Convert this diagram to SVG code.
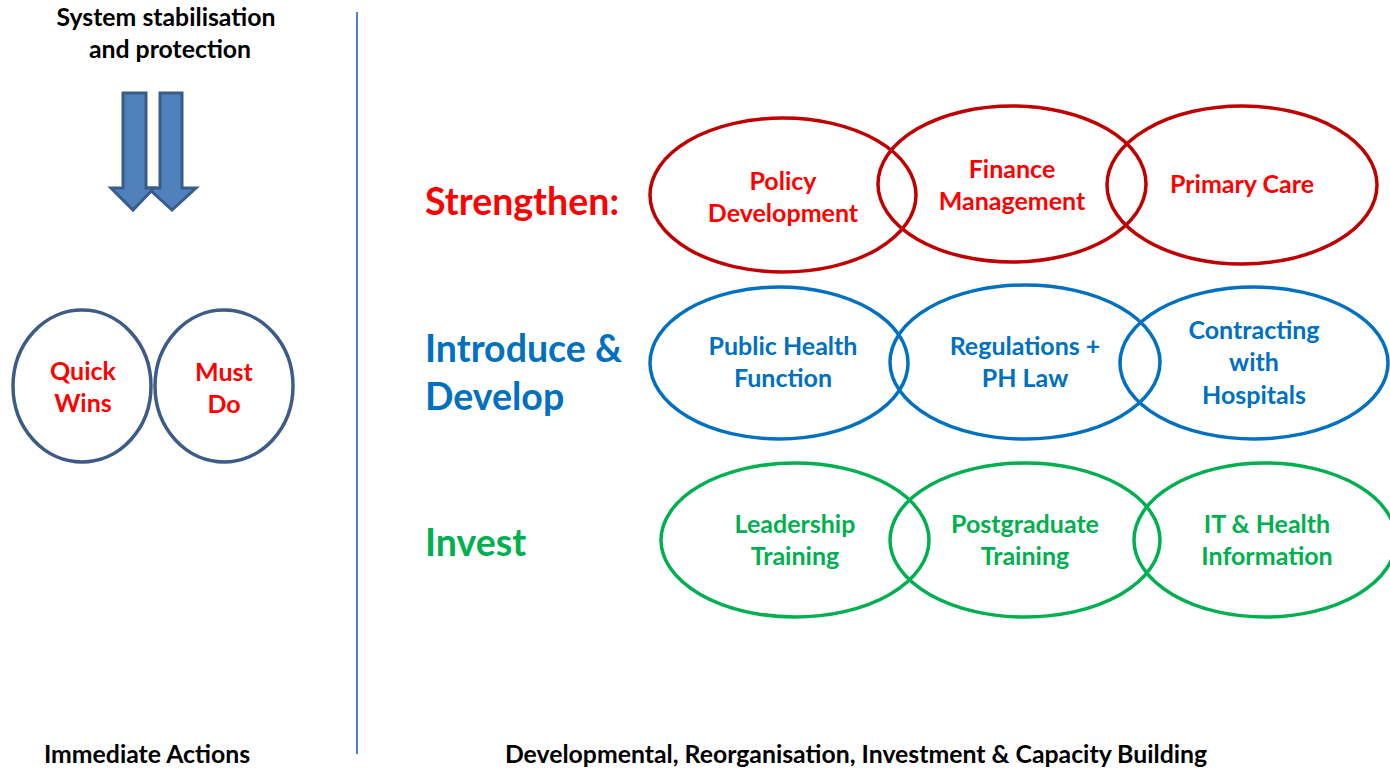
<svg xmlns="http://www.w3.org/2000/svg" width="1390" height="769" viewBox="0 0 1390 769">
  <style>
    text { font-family: Lato, "Open Sans", "Liberation Sans", sans-serif; font-weight: bold; text-anchor: middle; }
    .cap { font-size: 24.8px; fill: #000000; }
    .lbl { font-size: 25px; }
    .head { font-size: 37.5px; text-anchor: start; }
    .red-t { fill: #FF0000; }
    .blue-t { fill: #0070C0; }
    .green-t { fill: #00B050; }
    .ring { fill: none; stroke-width: 3.5; }
    .red-r { stroke: #C00000; }
    .blue-r { stroke: #0070C0; }
    .green-r { stroke: #00B050; }
    .navy-r { fill: none; stroke: #3D5B87; stroke-width: 3.5; }
    .arrow { fill: #4F81BD; stroke: #385D8A; stroke-width: 3; stroke-linejoin: miter; }
  </style>

  <rect width="1390" height="769" fill="#FFFFFF"/>

  <!-- left column: immediate actions -->
  <g id="title-left">
    <text class="cap" x="166" y="26">System stabilisation</text>
    <text class="cap" x="170" y="58">and protection</text>
  </g>

  <g id="down-arrows">
    <path class="arrow" d="M160,93 L182,93 L182,188 L196,188 L172,210 L148,188 L160,188 Z"/>
    <path class="arrow" d="M123,93 L146,93 L146,188 L154,188 L133,210 L111,188 L123,188 Z"/>
  </g>

  <g id="quick-wins">
    <ellipse class="navy-r" cx="82" cy="386" rx="69" ry="76"/>
    <text class="lbl red-t" x="83" y="380">Quick</text>
    <text class="lbl red-t" x="83" y="412">Wins</text>
  </g>
  <g id="must-do">
    <ellipse class="navy-r" cx="224" cy="386" rx="69" ry="76"/>
    <text class="lbl red-t" x="224" y="381">Must</text>
    <text class="lbl red-t" x="224" y="413">Do</text>
  </g>

  <g id="divider">
    <line x1="357" y1="12" x2="357" y2="754" stroke="#4F81BD" stroke-width="2"/>
  </g>

  <!-- right column: row headings -->
  <g id="heading-strengthen">
    <text class="head red-t" x="425" y="215">Strengthen:</text>
  </g>
  <g id="heading-introduce">
    <text class="head blue-t" x="425" y="362">Introduce &amp;</text>
    <text class="head blue-t" x="425" y="410">Develop</text>
  </g>
  <g id="heading-invest">
    <text class="head green-t" x="425" y="556">Invest</text>
  </g>

  <!-- strengthen row -->
  <g id="policy-development">
    <ellipse class="ring red-r" cx="783" cy="195" rx="133" ry="77"/>
    <text class="lbl red-t" x="783" y="190">Policy</text>
    <text class="lbl red-t" x="783" y="222">Development</text>
  </g>
  <g id="finance-management">
    <ellipse class="ring red-r" cx="1012" cy="184" rx="134" ry="78"/>
    <text class="lbl red-t" x="1012" y="178">Finance</text>
    <text class="lbl red-t" x="1012" y="210">Management</text>
  </g>
  <g id="primary-care">
    <ellipse class="ring red-r" cx="1242" cy="185" rx="135" ry="79"/>
    <text class="lbl red-t" x="1242" y="193">Primary Care</text>
  </g>

  <!-- introduce & develop row -->
  <g id="public-health">
    <ellipse class="ring blue-r" cx="779" cy="363" rx="129" ry="76"/>
    <text class="lbl blue-t" x="783" y="355">Public Health</text>
    <text class="lbl blue-t" x="783" y="387">Function</text>
  </g>
  <g id="regulations">
    <ellipse class="ring blue-r" cx="1025" cy="362" rx="135" ry="77"/>
    <text class="lbl blue-t" x="1025" y="355">Regulations +</text>
    <text class="lbl blue-t" x="1025" y="387">PH Law</text>
  </g>
  <g id="contracting">
    <ellipse class="ring blue-r" cx="1254" cy="363" rx="134" ry="76"/>
    <text class="lbl blue-t" x="1254" y="339">Contracting</text>
    <text class="lbl blue-t" x="1254" y="371">with</text>
    <text class="lbl blue-t" x="1254" y="404">Hospitals</text>
  </g>

  <!-- invest row -->
  <g id="leadership-training">
    <ellipse class="ring green-r" cx="795" cy="540" rx="134" ry="77"/>
    <text class="lbl green-t" x="795" y="533">Leadership</text>
    <text class="lbl green-t" x="795" y="565">Training</text>
  </g>
  <g id="postgraduate-training">
    <ellipse class="ring green-r" cx="1025" cy="540" rx="135" ry="77"/>
    <text class="lbl green-t" x="1025" y="533">Postgraduate</text>
    <text class="lbl green-t" x="1025" y="565">Training</text>
  </g>
  <g id="it-health-information">
    <ellipse class="ring green-r" cx="1265" cy="540" rx="131" ry="77"/>
    <text class="lbl green-t" x="1267" y="533">IT &amp; Health</text>
    <text class="lbl green-t" x="1267" y="565">Information</text>
  </g>

  <!-- footers -->
  <g id="footer-left">
    <text class="cap" x="147" y="763">Immediate Actions</text>
  </g>
  <g id="footer-right">
    <text class="cap" x="856" y="763">Developmental, Reorganisation, Investment &amp; Capacity Building</text>
  </g>
</svg>
